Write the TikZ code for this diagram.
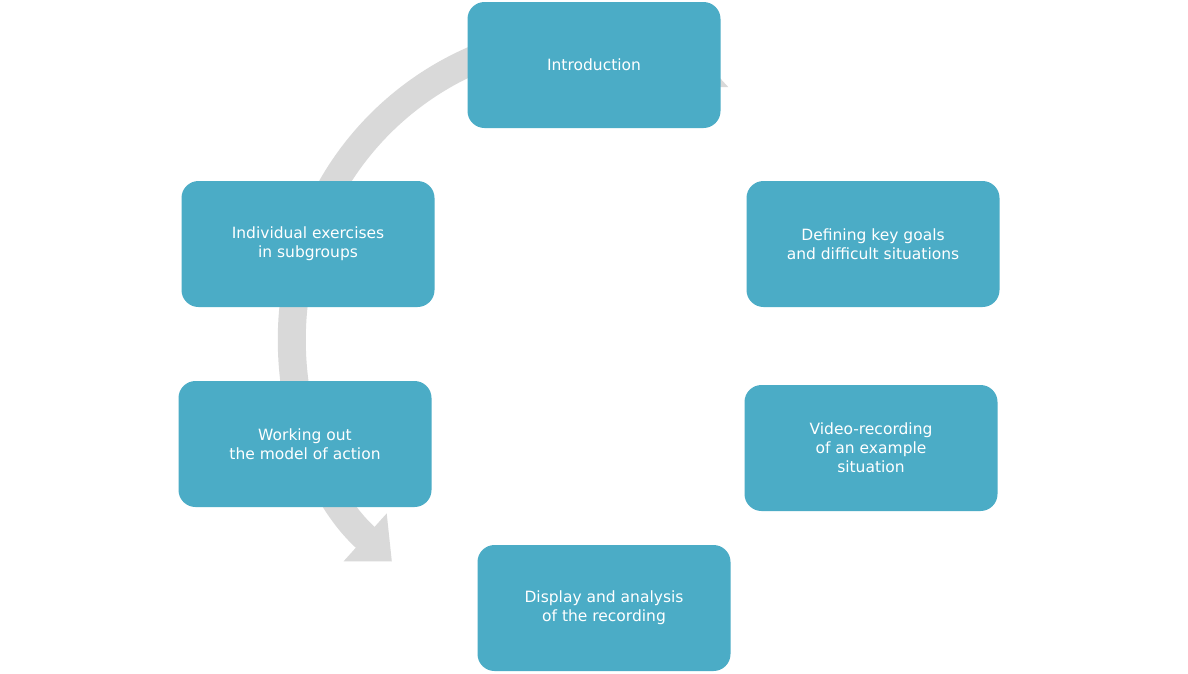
\documentclass[tikz,border=0pt]{standalone}
\usepackage{fontspec}
\setmainfont{DejaVu Sans}
\usetikzlibrary{arrows.meta}
\definecolor{boxc}{HTML}{4BACC6}
\definecolor{ringc}{HTML}{D9D9D9}
\begin{document}
\begin{tikzpicture}[x=1pt,y=-1pt,
  box/.style={fill=boxc,rounded corners=17pt,minimum width=253pt,minimum height=126pt,text=white,align=center,font=\fontsize{15.5}{19}\selectfont,inner sep=2pt}]
\useasboundingbox (0,0) rectangle (1188,673);
\fill[white] (0,0) rectangle (1188,673);
\coordinate (c) at (594,337);
\draw[ringc,line width=28pt,-{Triangle[length=34pt,width=60pt]}] ([shift={(110:-302)}]c)++(0,0) ;
\draw[ringc,line width=28pt,-{Triangle[length=36pt,width=62pt]}]
  (c) ++(-78:302) arc[start angle=-78,end angle=-228,radius=302];
\draw[ringc,line width=28pt] (c) ++(-68:302) arc[start angle=-68,end angle=-79,radius=302];
\node[box] (i) at (594,65) {Introduction};
\node[box] (d) at (873,244) {Defining key goals\\and difficult situations};
\node[box] (v) at (871,448) {Video-recording\\of an example\\situation};
\node[box] (s) at (604,608) {Display and analysis\\of the recording};
\node[box] (w) at (305,444) {Working out\\the model of action};
\node[box] (n) at (308,244) {Individual exercises\\in subgroups};
\end{tikzpicture}
\end{document}
